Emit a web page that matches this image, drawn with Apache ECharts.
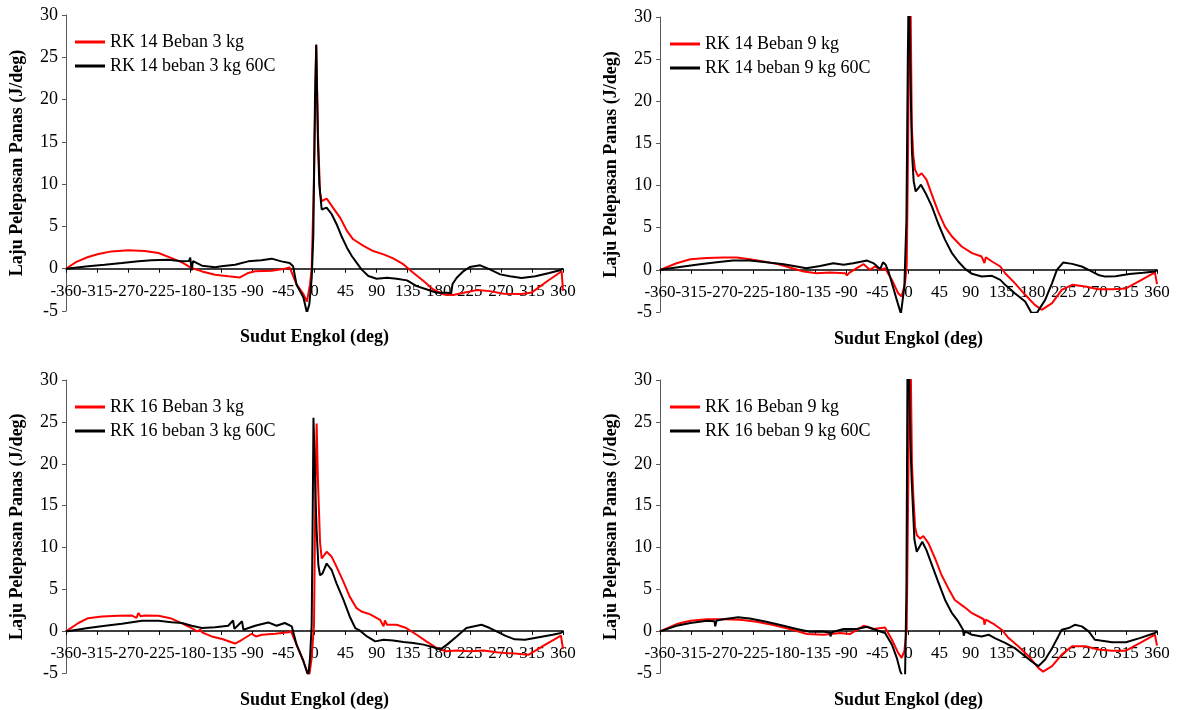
<!DOCTYPE html>
<html>
<head>
<meta charset="utf-8">
<script src="https://cdn.jsdelivr.net/npm/echarts@6/dist/echarts.min.js"></script>
<style>
html,body{margin:0;padding:0;background:#fff;}
#c{width:1179px;height:710px;}
</style>
</head>
<body>
<div id="c"></div>
<script>
// ---- tick settings ----
const xTicks = { min: -360, max: 360, interval: 45 };
const yTicks = { min: -5, max: 30, interval: 5 };
const xTitle = 'Sudut Engkol (deg)';
const yTitle = 'Laju Pelepasan Panas (J/deg)';

// ---- series names ----
const names = [
  ['RK 14 Beban 3 kg', 'RK 14 beban 3 kg 60C'],
  ['RK 14 Beban 9 kg', 'RK 14 beban 9 kg 60C'],
  ['RK 16 Beban 3 kg', 'RK 16 beban 3 kg 60C'],
  ['RK 16 Beban 9 kg', 'RK 16 beban 9 kg 60C']
];

// ---- data [crank angle, heat release rate] ----
const rk14_3kg = [[-360,0],[-345,0.8],[-328,1.38],[-313,1.74],[-294,2.05],[-270,2.17],[-246,2.1],[-226,1.86],[-207,1.26],[-192,0.75],[-178,0.08],[-163,-0.32],[-144,-0.71],[-125,-0.9],[-108,-1.03],[-96,-0.5],[-86,-0.3],[-62,-0.24],[-43,0],[-36,0.15],[-26,-1.86],[-16,-3.0],[-11,-3.9],[-6.5,-1.86],[-4,0.1],[-1,10],[2.5,26.4],[5,16],[8,9],[10.4,8.0],[17.6,8.3],[27,7.2],[37,6.05],[47,4.47],[56,3.48],[71,2.69],[85,2.09],[100,1.7],[114,1.23],[129,0.51],[143,-0.47],[158,-1.46],[172,-2.45],[187,-3.04],[201,-3.1],[216,-2.85],[235,-2.53],[254,-2.65],[274,-2.96],[300,-3.0],[315,-2.8],[335,-1.6],[358,-0.3],[360,-2.6]];
const rk14_3kg_60C = [[-360,0],[-328,0.28],[-304,0.47],[-279,0.67],[-255,0.87],[-236,1.0],[-212,1.07],[-192,0.87],[-182,0.9],[-180,1.3],[-178,-0.2],[-176,0.9],[-163,0.36],[-144,0.16],[-135,0.28],[-115,0.47],[-96,0.87],[-77,1.0],[-62,1.19],[-48,0.87],[-36,0.67],[-31,0.28],[-26,-1.9],[-16,-3.4],[-11,-5.2],[-7.5,-4.2],[-4,-1.07],[-1.7,4],[0.7,20],[2.5,26.5],[5,15],[7,10],[10.4,7.0],[12.8,6.9],[17.6,7.23],[25,6.44],[32,5.26],[39,3.87],[47,2.49],[54,1.5],[61,0.71],[68,-0.08],[78,-0.87],[90,-1.19],[105,-1.07],[119,-1.19],[134,-1.38],[148,-2.06],[163,-2.45],[177,-2.85],[192,-2.85],[198,-2.9],[200,-1.8],[206,-1.07],[216,-0.28],[225,0.2],[240,0.4],[254,-0.08],[269,-0.67],[283,-0.9],[300,-1.1],[320,-0.9],[340,-0.5],[357,-0.15],[360,0]];

const rk14_9kg = [[-360,0],[-336,0.79],[-316,1.26],[-292,1.42],[-268,1.46],[-249,1.46],[-230,1.26],[-210,0.99],[-191,0.71],[-172,0.28],[-152,-0.2],[-133,-0.4],[-114,-0.32],[-92,-0.4],[-89,-0.65],[-86,-0.35],[-75,0.2],[-65,0.67],[-56,0],[-48.5,0.4],[-41,0],[-34,0.2],[-24,-1.19],[-15,-2.77],[-10,-3.16],[-5,-1.58],[-2.6,0.5],[-0.5,15],[1,30],[2,36],[3.2,30],[4.8,17],[7,13.5],[9.5,11.9],[14,11.1],[19,11.46],[26,10.7],[34,8.9],[43,6.9],[53,5.1],[63,3.95],[77,2.77],[92,1.98],[106,1.58],[110,0.8],[112,1.5],[121,0.99],[133,0.4],[140,-0.4],[154,-1.58],[169,-2.96],[183,-4.15],[193,-4.74],[208,-3.95],[222,-2.37],[237,-1.78],[256,-1.98],[275,-2.29],[295,-2.3],[315,-2.2],[335,-1.3],[357,-0.3],[360,-1.7]];
const rk14_9kg_60C = [[-360,0],[-326,0.4],[-302,0.67],[-278,0.91],[-254,1.1],[-230,1.1],[-206,0.9],[-181,0.67],[-162,0.4],[-148,0.2],[-128,0.47],[-109,0.79],[-94,0.6],[-80,0.79],[-60,1.1],[-51,0.8],[-41,0.1],[-37,0.9],[-33,0.6],[-29,-0.2],[-24,-1.58],[-17,-3.56],[-11,-5.2],[-6,-2],[-3,5.9],[-1,25],[0.5,35],[1.8,35],[3,22],[5,14],[7.5,10.5],[10.4,9.3],[14.3,9.7],[18,10.1],[26,8.9],[34,7.5],[43,5.5],[53,3.56],[63,1.98],[72,0.99],[82,0.12],[92,-0.47],[106,-0.79],[121,-0.71],[133,-1.19],[140,-1.78],[154,-2.77],[169,-3.75],[178,-5.1],[186,-5.1],[198,-3.56],[208,-1.58],[215,0],[224,0.87],[237,0.71],[251,0.4],[261,0],[275,-0.6],[285,-0.8],[300,-0.75],[320,-0.5],[340,-0.35],[357,-0.2],[360,0]];

const rk16_3kg = [[-360,0],[-342,1.0],[-328,1.58],[-308,1.78],[-284,1.86],[-265,1.9],[-258,1.6],[-255,2.2],[-252,1.8],[-246,1.9],[-226,1.86],[-209,1.58],[-195,1.07],[-178,0.4],[-170,0.0],[-165,0.2],[-163,-0.12],[-149,-0.6],[-134,-0.91],[-115,-1.45],[-105,-1.0],[-91,-0.28],[-85,-0.6],[-76,-0.4],[-57,-0.28],[-38,-0.1],[-34,0],[-26,-1.58],[-16,-3.56],[-10.4,-4.94],[-7.5,-5.2],[-4.1,-3.16],[-0.7,0.8],[1,15],[3.1,24.8],[5,18],[8,10.7],[10.4,8.7],[12.8,8.77],[17.6,9.5],[25,8.9],[32,7.7],[42,5.9],[51,4.15],[61,2.77],[68,2.37],[80,2.06],[95,1.38],[100,0.6],[102,1.3],[105,0.8],[119,0.79],[133,0.4],[148,-0.4],[162,-1.19],[177,-1.98],[191,-2.37],[206,-2.29],[225,-2.37],[245,-2.29],[264,-2.49],[276,-2.57],[290,-2.65],[310,-2.8],[330,-1.8],[357,-0.5],[360,-2.1]];
const rk16_3kg_60C = [[-360,0],[-328,0.4],[-303,0.67],[-279,0.91],[-250,1.26],[-226,1.26],[-207,1.1],[-192,1.0],[-178,0.67],[-163,0.4],[-144,0.5],[-125,0.67],[-118,1.3],[-116,0.3],[-105,1.2],[-103,0.2],[-86,0.67],[-67,1.07],[-55,0.67],[-43,1.0],[-33,0.6],[-26,-1.58],[-16,-3.56],[-9,-5.3],[-6.5,-3.2],[-4.1,0.8],[-2.5,15],[-1.5,25.5],[0,21],[1.5,16],[3.1,12],[5.6,7.9],[8,6.7],[11.4,6.9],[17.6,8.1],[25,7.3],[32,5.7],[42,3.75],[51,1.78],[59,0.4],[66,0.08],[76,-0.6],[88,-1.19],[100,-1.0],[114,-1.1],[129,-1.26],[143,-1.38],[158,-1.58],[172,-1.9],[182,-2.17],[192,-1.58],[206,-0.6],[220,0.4],[230,0.59],[242,0.79],[254,0.4],[269,-0.2],[276,-0.5],[290,-0.95],[305,-1.0],[325,-0.7],[345,-0.4],[357,-0.2],[360,0]];

const rk16_9kg = [[-360,0],[-336,0.87],[-316,1.26],[-292,1.46],[-268,1.46],[-244,1.38],[-220,1.15],[-196,0.75],[-172,0.28],[-147,-0.32],[-123,-0.4],[-99,-0.2],[-85,-0.32],[-65,0.67],[-51,0.28],[-34,0.47],[-24,-1.0],[-15,-2.57],[-10,-3.16],[-6,-2.37],[-2.6,0.3],[0,20],[1.5,36],[3.5,30],[5,20],[7,16.2],[9.5,12.5],[12,11.5],[16.7,11.07],[21.5,11.38],[29,10.5],[38.5,8.7],[48,6.7],[58,5.1],[67,3.75],[80,2.96],[92,2.17],[109,1.45],[110,0.8],[112,1.4],[125,0.8],[135,0.2],[145,-0.8],[159,-1.78],[174,-2.96],[188,-4.35],[195,-4.8],[208,-4.15],[222,-2.77],[237,-1.78],[256,-1.78],[275,-2.17],[295,-2.3],[315,-2.3],[335,-1.4],[357,-0.4],[360,-1.7]];
const rk16_9kg_60C = [[-360,0],[-336,0.67],[-316,1.0],[-292,1.26],[-281,1.2],[-280,0.6],[-278,1.3],[-268,1.46],[-247,1.7],[-230,1.54],[-206,1.15],[-181,0.67],[-162,0.28],[-143,-0.04],[-125,0.0],[-114,-0.12],[-113,-0.6],[-111,-0.1],[-94,0.28],[-75,0.28],[-60,0.55],[-44,0.08],[-34,-0.2],[-24,-1.58],[-17,-3.16],[-12,-4.74],[-9,-5.3],[-5,-5.5],[-3,5],[-1.2,36],[1,30],[3,22],[4.6,18],[8.5,11],[11.9,9.5],[14.3,9.4],[20,10.7],[26,9.7],[34,7.9],[43,5.9],[53,3.75],[63,2.17],[72,1.19],[79,0.2],[80,-0.5],[82,0],[92,-0.4],[106,-0.6],[116,-0.4],[125,-0.8],[140,-1.38],[154,-2.0],[169,-2.96],[178,-3.56],[188,-4.15],[198,-3.36],[208,-2.0],[217,-0.6],[222,0.2],[232,0.4],[241,0.79],[251,0.6],[261,0],[270,-1.0],[278,-1.1],[295,-1.3],[315,-1.3],[335,-0.8],[357,-0.2],[360,0]];

const panelData = [
  [rk14_3kg, rk14_3kg_60C],
  [rk14_9kg, rk14_9kg_60C],
  [rk16_3kg, rk16_3kg_60C],
  [rk16_9kg, rk16_9kg_60C]
];

// ---- layout ----
const FONT = "'Liberation Serif','Times New Roman',serif";
const grids = [
  { left: 66, top: 15, width: 497, height: 296 },
  { left: 660, top: 17, width: 497, height: 295 },
  { left: 66, top: 380, width: 497, height: 296 },
  { left: 660, top: 380, width: 497, height: 296 }
];
const legendPos = [
  { left: 70, top: 28 },
  { left: 665, top: 30 },
  { left: 70, top: 393 },
  { left: 665, top: 393 }
];
const colors = ['#ff0000', '#000000'];

const option = {
  backgroundColor: '#ffffff',
  animation: false,
  grid: grids.map(g => Object.assign({ containLabel: false }, g)),
  xAxis: grids.map((g, i) => ({
    type: 'value', gridIndex: i, position: 'bottom',
    // put the axis on the zero line (distance from bottom edge = 5 of 35 units)
    offset: -g.height * (0 - yTicks.min) / (yTicks.max - yTicks.min),
    min: xTicks.min, max: xTicks.max, interval: xTicks.interval,
    name: xTitle, nameLocation: 'middle', nameGap: 60,
    nameTextStyle: { fontFamily: FONT, fontWeight: 'bold', fontSize: 18, color: '#000' },
    axisLine: { show: true, onZero: false, lineStyle: { color: '#000', width: 1.5 } },
    axisTick: { show: true, length: 4, lineStyle: { color: '#000' } },
    axisLabel: { fontFamily: FONT, fontSize: 17, color: '#000', margin: 14, hideOverlap: false },
    splitLine: { show: false }
  })),
  yAxis: grids.map((g, i) => ({
    type: 'value', gridIndex: i,
    min: yTicks.min, max: yTicks.max, interval: yTicks.interval,
    name: yTitle, nameLocation: 'middle', nameGap: 40,
    nameTextStyle: { fontFamily: FONT, fontWeight: 'bold', fontSize: 18, color: '#000' },
    axisLine: { show: true, onZero: false, lineStyle: { color: '#595959', width: 1 } },
    axisTick: { show: true, length: 4, lineStyle: { color: '#595959' } },
    axisLabel: { fontFamily: FONT, fontSize: 18, color: '#000', margin: 8 },
    splitLine: { show: false }
  })),
  legend: legendPos.map((p, i) => ({
    left: p.left, top: p.top, orient: 'vertical',
    data: names[i], icon: 'rect', itemWidth: 30, itemHeight: 3, itemGap: 6,
    textStyle: { fontFamily: FONT, fontSize: 18, color: '#000' },
    selectedMode: false
  })),
  series: []
};

panelData.forEach((pair, i) => {
  pair.forEach((d, j) => {
    option.series.push({
      type: 'line', name: names[i][j], xAxisIndex: i, yAxisIndex: i,
      data: d, showSymbol: false, symbol: 'none', clip: true,
      lineStyle: { color: colors[j], width: 2 }, itemStyle: { color: colors[j] },
      z: j === 0 ? 2 : 3
    });
  });
});

const chart = echarts.init(document.getElementById('c'), null, { renderer: 'canvas' });
chart.setOption(option);
</script>
</body>
</html>
